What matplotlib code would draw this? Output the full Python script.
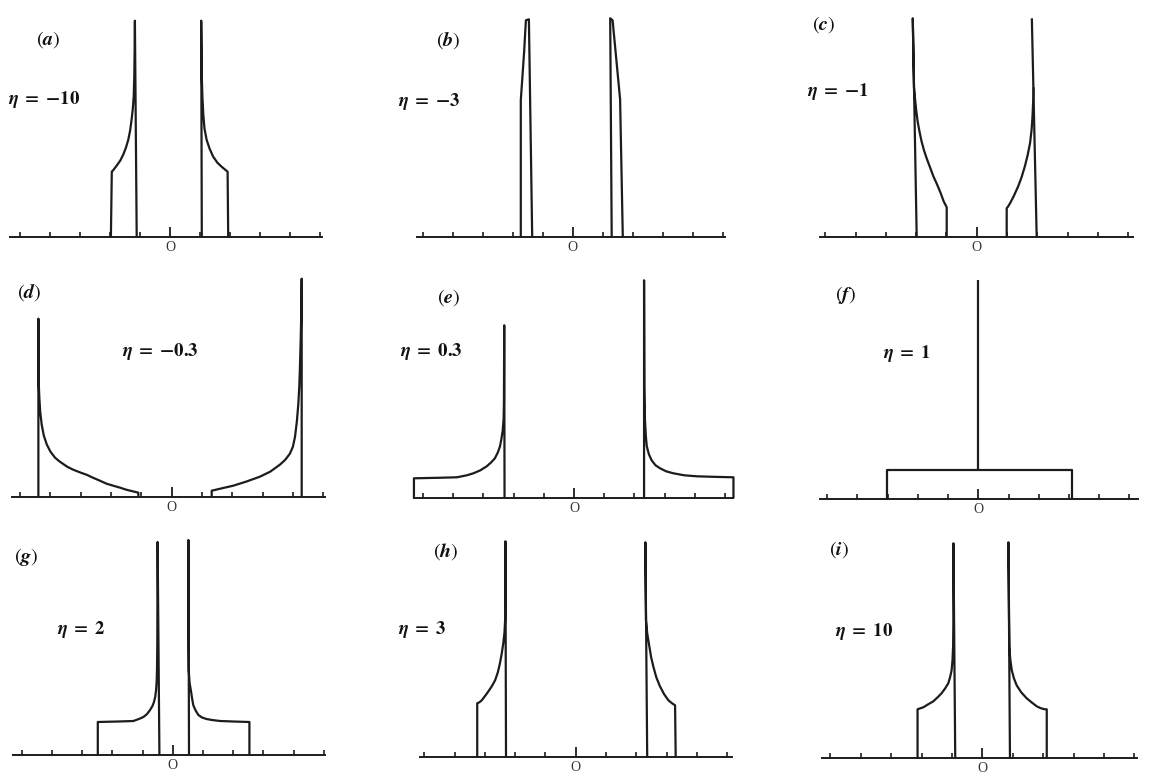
import matplotlib
matplotlib.use("Agg")
import matplotlib.pyplot as plt
from matplotlib.ticker import FixedLocator, NullFormatter

plt.rcParams['mathtext.fontset'] = 'stix'

# ---------------- data (x in tick units, y = relative intensity) ----------------
TICKS = [-5, -4, -3, -2, -1, 1, 2, 3, 4, 5]
CENTER_LABEL = "O"
LETTERS = ["a", "b", "c", "d", "e", "f", "g", "h", "i"]
ETAS = ["-10", "-3", "-1", "-0.3", "0.3", "1", "2", "3", "10"]

# (a) eta = -10
A_L_X = [-1.97, -1.94, -1.88, -1.78, -1.66, -1.56, -1.47, -1.39, -1.33, -1.28, -1.24, -1.21, -1.19, -1.18, -1.17, -1.11]
A_L_Y = [0, 65, 67, 71, 76, 82, 89, 97, 106, 117, 128, 140, 160, 185, 216, 0]
A_R_X = [1.06, 1.04, 1.05, 1.06, 1.08, 1.11, 1.15, 1.22, 1.32, 1.44, 1.58, 1.72, 1.84, 1.92, 1.94]
A_R_Y = [0, 216, 185, 160, 140, 122, 108, 97, 88, 80, 74, 70, 67, 65, 0]
# (b) eta = -3
B_L_X = [-1.73, -1.73, -1.62, -1.56, -1.46, -1.35]
B_L_Y = [0, 137, 185, 217, 218, 0]
B_R_X = [1.30, 1.25, 1.33, 1.58, 1.67]
B_R_Y = [0, 219, 217, 138, 0]
# (c) eta = -1
C_L_X = [-1.98, -2.11, -2.07, -2.04, -2.00, -1.95, -1.89, -1.82, -1.74, -1.64, -1.54, -1.43, -1.31, -1.20, -1.09, -0.99, -0.99]
C_L_Y = [0, 219, 150, 140, 128, 116, 106, 96, 87, 78, 70, 61, 53, 45, 36, 30, 0]
C_R_X = [0.99, 0.99, 1.04, 1.10, 1.22, 1.37, 1.48, 1.59, 1.68, 1.76, 1.81, 1.84, 1.87, 1.88]
C_R_Y = [0, 29, 31, 34, 41, 51, 60, 71, 82, 94, 107, 120, 140, 150]
C_R2_X = [1.82, 1.98]
C_R2_Y = [219, 0]
# (d) eta = -0.3
D_L_X = [-4.40, -4.40, -4.39, -4.37, -4.34, -4.29, -4.22, -4.12, -4.00, -3.85, -3.69, -3.45, -3.25,
         -3.00, -2.81, -2.60, -2.37, -2.15, -1.93, -1.70, -1.50, -1.30, -1.10, -1.10]
D_L_Y = [0, 178, 115, 100, 85, 72, 61, 52, 45, 39, 35, 30, 27, 24, 22, 19, 16, 13, 11, 9, 7, 5.5, 4, 0]
D_R_X = [1.32, 1.32, 1.60, 2.03, 2.45, 2.91, 3.25, 3.57, 3.75, 3.90, 4.00, 4.07, 4.13, 4.18, 4.21,
         4.23, 4.26, 4.28, 4.29, 4.29]
D_R_Y = [0, 6, 8, 11, 15, 20, 25, 32, 37, 43, 50, 60, 75, 93, 110, 127, 160, 190, 218, 0]
# (e) eta = 0.3
E_L_X = [-5.30, -5.30, -4.50, -3.88, -3.55, -3.33, -3.10, -2.89, -2.74, -2.62, -2.52, -2.45, -2.40,
         -2.36, -2.33, -2.32, -2.31, -2.30]
E_L_Y = [0, 20, 20.5, 21, 23, 25, 28, 32, 36, 40, 46, 52, 60, 68, 80, 95, 173, 0]
E_R_X = [2.32, 2.32, 2.33, 2.35, 2.38, 2.41, 2.48, 2.57, 2.70, 2.85, 3.05, 3.29, 3.65, 4.06, 4.60, 5.28, 5.28]
E_R_Y = [0, 218, 110, 78, 62, 52, 44, 38, 33, 30, 27, 25, 23, 22, 21.5, 21, 0]
# (f) eta = 1
F_BOX_X = [-3.01, -3.01, 3.09, 3.09]
F_BOX_Y = [0, 29, 29, 0]
F_LINE_X = [0, 0]
F_LINE_Y = [29, 219]
# (g) eta = 2
G_L_X = [-2.48, -2.48, -1.80, -1.30, -1.12, -0.97, -0.85, -0.75, -0.67, -0.62, -0.58, -0.55, -0.53,
         -0.52, -0.51, -0.50, -0.44]
G_L_Y = [0, 33, 33.5, 34, 36, 38, 41, 45, 49, 53, 58, 65, 74, 85, 110, 213, 0]
G_R_X = [0.54, 0.52, 0.525, 0.53, 0.56, 0.60, 0.64, 0.68, 0.75, 0.85, 0.97, 1.12, 1.30, 1.57, 2.00, 2.54, 2.54]
G_R_Y = [0, 215, 110, 85, 72, 65, 57, 50, 45, 40, 37.5, 36, 35, 34, 33.5, 33, 0]
# (h) eta = 3
H_L_X = [-3.25, -3.25, -3.18, -3.10, -3.00, -2.88, -2.77, -2.66, -2.57, -2.50, -2.44, -2.39, -2.35,
         -2.33, -2.32, -2.32, -2.30]
H_L_Y = [0, 54, 55, 57, 61, 66, 71, 77, 85, 94, 104, 114, 125, 137, 170, 216, 0]
H_R_X = [2.36, 2.30, 2.31, 2.32, 2.36, 2.43, 2.49, 2.56, 2.66, 2.78, 2.92, 3.06, 3.18, 3.28, 3.30]
H_R_Y = [0, 215, 170, 137, 124, 111, 100, 91, 80, 71, 63, 57, 54, 52, 0]
# (i) eta = 10
I_L_X = [-2.13, -2.13, -2.04, -1.94, -1.78, -1.61, -1.47, -1.34, -1.22, -1.12, -1.06, -1.01, -0.98,
         -0.96, -0.95, -0.95, -0.89]
I_L_Y = [0, 49, 50, 51, 54, 57, 61, 65, 70, 75, 81, 88, 98, 112, 140, 215, 0]
I_R_X = [0.91, 0.86, 0.88, 0.89, 0.92, 0.97, 1.04, 1.13, 1.28, 1.46, 1.62, 1.79, 1.93, 2.06, 2.12, 2.12]
I_R_Y = [0, 216, 140, 112, 99, 88, 80, 73, 66, 60, 56, 52, 50, 49, 49, 0]

SEGMENTS = [
    [(A_L_X, A_L_Y), (A_R_X, A_R_Y)],
    [(B_L_X, B_L_Y), (B_R_X, B_R_Y)],
    [(C_L_X, C_L_Y), (C_R_X, C_R_Y), (C_R2_X, C_R2_Y)],
    [(D_L_X, D_L_Y), (D_R_X, D_R_Y)],
    [(E_L_X, E_L_Y), (E_R_X, E_R_Y)],
    [(F_BOX_X, F_BOX_Y), (F_LINE_X, F_LINE_Y)],
    [(G_L_X, G_L_Y), (G_R_X, G_R_Y)],
    [(H_L_X, H_L_Y), (H_R_X, H_R_Y)],
    [(I_L_X, I_L_Y), (I_R_X, I_R_Y)],
]

# ---------------- layout (pixels) ----------------
W, H = 1150, 783
CX = [170, 572.7, 976.7, 171.7, 574, 978.3, 172.7, 575.7, 982.3]
BASE = [236.7, 237.3, 237.3, 496.7, 498.3, 499.3, 755, 757.3, 758.3]
SC = [30, 30, 30.3, 30.3, 30.2, 30.2, 30.2, 30.3, 30.4]
AX_LO = [-5.33, -5.2, -5.17, -5.28, -5.3, -5.24, -5.28, -5.14, -5.28]
AX_HI = [5.07, 5.08, 5.16, 5.06, 5.26, 5.3, 5.04, 5.15, 5.08]
LET_POS = [(48, 40), (448, 40), (824, 25), (29, 292), (449, 298), (846, 295),
           (26, 557), (446, 552), (839, 550)]
ETA_POS = [(8, 100), (398, 101), (807, 92), (122, 352), (400, 352), (883, 353),
           (57, 630), (398, 630), (835, 632)]

INK = "#1c1c1c"
XR = 5.6
Y_TOP, Y_BOT = 228, 22

fig = plt.figure(figsize=(W / 100, H / 100), dpi=100)
fig.patch.set_facecolor("white")

for i in range(9):
    cx, by, s = CX[i], BASE[i], SC[i]
    left = (cx - XR * s) / W
    width = 2 * XR * s / W
    bottom = 1 - (by + Y_BOT) / H
    height = (Y_TOP + Y_BOT) / H
    ax = fig.add_axes([left, bottom, width, height])
    ax.set_facecolor("none")
    ax.set_xlim(-XR, XR)
    ax.set_ylim(-Y_BOT, Y_TOP)
    for sp in ["top", "left", "right"]:
        ax.spines[sp].set_visible(False)
    ax.spines["bottom"].set_position(("data", 0))
    ax.spines["bottom"].set_bounds(AX_LO[i], AX_HI[i])
    ax.spines["bottom"].set_color(INK)
    ax.spines["bottom"].set_linewidth(1.4)
    ax.set_yticks([])
    ax.set_xticks([0])
    ax.set_xticklabels([CENTER_LABEL], fontsize=10, family="Liberation Serif", color="#333333")
    ax.xaxis.set_minor_locator(FixedLocator(TICKS))
    ax.xaxis.set_minor_formatter(NullFormatter())
    ax.tick_params(axis="x", which="major", direction="in", length=7, width=1.3,
                   color=INK, pad=3)
    ax.tick_params(axis="x", which="minor", direction="in", length=3.5, width=1.2,
                   color=INK)
    for xs, ys in SEGMENTS[i]:
        ax.plot(xs, ys, color=INK, lw=1.6, solid_joinstyle="round", solid_capstyle="butt")

    lx, ly = LET_POS[i]
    fig.text(lx / W, 1 - ly / H, r"$(\mathbfit{%s})$" % LETTERS[i],
             fontsize=14.5, ha="center", va="center", color="#111111")
    ex, ey = ETA_POS[i]
    eta = ETAS[i]
    if eta.startswith("-"):
        body = r"\mathbf{-%s}" % eta[1:]
    else:
        body = r"\mathbf{%s}" % eta
    fig.text(ex / W, 1 - ey / H, r"$\mathbfit{\eta}\ \mathbf{=}\ %s$" % body,
             fontsize=13.5, ha="left", va="center", color="#111111")

fig.savefig("out.png", dpi=100, facecolor="white")
